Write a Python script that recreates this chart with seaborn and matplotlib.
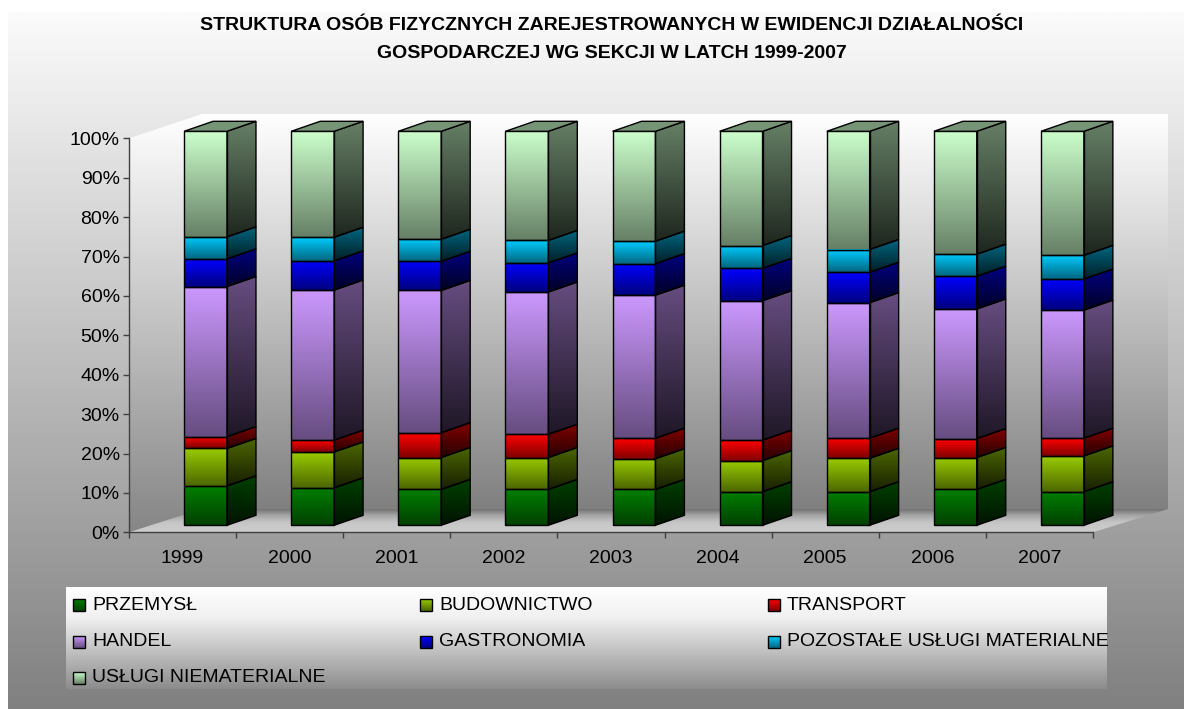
import numpy as np
import pandas as pd
import matplotlib
matplotlib.use("Agg")
import matplotlib.pyplot as plt
import matplotlib.colors as mcolors
import matplotlib.transforms as mtransforms
from matplotlib.patches import Polygon, Rectangle
import seaborn as sns

plt.rcParams['font.family'] = ['Liberation Sans', 'DejaVu Sans']

# data (% of total, per year)
years = ["1999", "2000", "2001", "2002", "2003", "2004", "2005", "2006", "2007"]
przemysl = [10.0, 9.5, 9.1, 9.1, 9.1, 8.5, 8.5, 9.1, 8.5]
budownictwo = [9.5, 9.1, 8.1, 8.1, 7.8, 7.9, 8.5, 8.1, 9.1]
transport = [3.0, 3.0, 6.3, 5.9, 5.2, 5.2, 5.1, 4.8, 4.5]
handel = [38.1, 38.1, 36.1, 36.1, 36.3, 35.4, 34.4, 32.9, 32.5]
gastronomia = [7.0, 7.4, 7.4, 7.4, 8.0, 8.2, 7.7, 8.3, 7.9]
pozostale = [5.6, 6.0, 5.6, 5.7, 5.7, 5.8, 5.8, 5.6, 6.0]
niematerialne = [26.8, 26.9, 27.4, 27.7, 27.9, 29.0, 30.0, 31.2, 31.5]

series_names = ["PRZEMYSŁ", "BUDOWNICTWO", "TRANSPORT", "HANDEL", "GASTRONOMIA",
                "POZOSTAŁE USŁUGI MATERIALNE", "USŁUGI NIEMATERIALNE"]
series_colors = ["#008000", "#99cc00", "#ff0000", "#cc99ff", "#0000ff", "#00ccff", "#ccffcc"]

df = pd.DataFrame({"rok": years, "PRZEMYSŁ": przemysl, "BUDOWNICTWO": budownictwo,
                   "TRANSPORT": transport, "HANDEL": handel, "GASTRONOMIA": gastronomia,
                   "POZOSTAŁE USŁUGI MATERIALNE": pozostale,
                   "USŁUGI NIEMATERIALNE": niematerialne})

# layout in pixels
W, H = 1184, 709
AX_L, AX_R = 129, 1093
Y0, Y100 = 532.3, 138.3
cat_px = (AX_R - AX_L) / 9
pct_px = (Y0 - Y100) / 100
XMAX, YMAX = 8.8, 106


def vgrad(axis, extent, stops, zorder, transform=None, clip=None):
    # vertical colour gradient, stops = [(pos 0 top .. 1 bottom, colour)]
    pos = np.array([s[0] for s in stops])
    cols = np.array([mcolors.to_rgb(s[1]) for s in stops])
    t = np.linspace(0, 1, 200)
    arr = np.stack([np.interp(t, pos, cols[:, k]) for k in range(3)], axis=-1)[:, None, :]
    kw = dict(extent=extent, origin='upper', aspect='auto', interpolation='bilinear', zorder=zorder)
    if transform is not None:
        kw['transform'] = transform
    im = axis.imshow(arr, **kw)
    if clip is not None:
        im.set_clip_path(clip)
    return im


def shade(c, f):
    return tuple(np.array(mcolors.to_rgb(c)) * f)


fig = plt.figure(figsize=(W / 100, H / 100), dpi=100, facecolor='white')

# background, walls, floor (pixel coordinates)
bg = fig.add_axes([0, 0, 1, 1], zorder=0)
bg.axis('off')
vgrad(bg, (8, W, H, 12), [(0, '#fbfbfb'), (1, '#808080')], 1)
vgrad(bg, (202, 1168, 509, 114), [(0, '#ffffff'), (1, '#808080')], 2)
lwall = Polygon([(AX_L, Y0), (AX_L, Y100), (202, 114), (202, 509)], closed=True, fc='none', ec='none')
bg.add_patch(lwall)
vgrad(bg, (AX_L, 202, Y0, 114), [(0, '#ffffff'), (1, '#868686')], 2, clip=lwall)
floor = Polygon([(AX_L, Y0), (AX_R, Y0), (1168, 509), (202, 509)], closed=True, fc='none', ec='none')
bg.add_patch(floor)
vgrad(bg, (AX_L, 1168, Y0, 509), [(0, '#6a6a6a'), (0.3, '#a4a4a4'), (0.6, '#c6c6c6'), (1, '#cdcdcd')], 2, clip=floor)

# legend box
vgrad(bg, (66, 1107, 689, 587), [(0, '#ffffff'), (0.3, '#f0f0f0'), (1, '#8c8c8c')], 2)
leg_clip = Rectangle((66, 587), 1041, 102, fc='none', ec='none')
bg.add_patch(leg_clip)
col_x = [73, 420, 768]
row_y = [605, 642, 678]
for i, (name, col) in enumerate(zip(series_names, series_colors)):
    lx, ly = col_x[i % 3], row_y[i // 3]
    vgrad(bg, (lx, lx + 12, ly + 6, ly - 6), [(0, col), (1, shade(col, 0.5))], 3)
    bg.add_patch(Rectangle((lx, ly - 6), 12, 12, fc='none', ec='black', lw=1.0, zorder=4))
    t = bg.text(lx + 19, ly, name, fontsize=14, va='center', ha='left', color='black', zorder=5)
    t.set_clip_path(leg_clip)
bg.set_xlim(0, W)
bg.set_ylim(H, 0)

fig.text(612 / W, 1 - 25 / H, "STRUKTURA OSÓB FIZYCZNYCH ZAREJESTROWANYCH W EWIDENCJI DZIAŁALNOŚCI",
         ha='center', va='center', fontsize=14, fontweight='bold')
fig.text(612 / W, 1 - 53 / H, "GOSPODARCZEJ WG SEKCJI W LATCH 1999-2007",
         ha='center', va='center', fontsize=14, fontweight='bold')

# main axes = front plane of the box
ax = fig.add_axes([AX_L / W, (H - Y0) / H, cat_px * (XMAX + 0.5) / W, pct_px * YMAX / H], zorder=1)
ax.patch.set_alpha(0)

# bars sit a little behind the axis plane, and have depth
trans = ax.transData + mtransforms.ScaledTranslation(23 / 100, 7 / 100, fig.dpi_scale_trans)
ddx = 29 / cat_px
ddy = 10 / pct_px

bottom = np.zeros(len(years))
for i, (name, col) in enumerate(zip(series_names, series_colors)):
    vals = df[name].to_numpy()
    n_before = len(ax.patches)
    sns.barplot(x=df["rok"], y=vals, bottom=bottom, width=0.4, color=col, saturation=1,
                errorbar=None, edgecolor='black', linewidth=1.0, ax=ax)
    for p in ax.patches[n_before:n_before + len(years)]:
        x0, w, y0, h = p.get_x(), p.get_width(), p.get_y(), p.get_height()
        p.set_transform(trans)
        p.set_facecolor('none')
        p.set_zorder(4)
        p.set_joinstyle('miter')
        vgrad(ax, (x0, x0 + w, y0, y0 + h), [(0, col), (1, shade(col, 0.5))], 3, transform=trans)
        side = Polygon([(x0 + w, y0), (x0 + w + ddx, y0 + ddy), (x0 + w + ddx, y0 + h + ddy), (x0 + w, y0 + h)],
                       closed=True, fc='none', ec='black', lw=1.0, transform=trans, zorder=4, joinstyle='miter')
        ax.add_patch(side)
        vgrad(ax, (x0 + w, x0 + w + ddx, y0, y0 + h + ddy), [(0, shade(col, 0.5)), (1, shade(col, 0.15))], 3,
              transform=trans, clip=side)
        if i == len(series_names) - 1:
            top = y0 + h
            lid = Polygon([(x0, top), (x0 + w, top), (x0 + w + ddx, top + ddy), (x0 + ddx, top + ddy)],
                          closed=True, fc=shade(col, 0.58), ec='black', lw=1.0, transform=trans, zorder=4,
                          joinstyle='miter')
            ax.add_patch(lid)
    bottom = bottom + vals

ax.set_xlim(-0.5, XMAX)
ax.set_ylim(0, YMAX)
ax.set_aspect('auto')
ax.set_xlabel('')
ax.set_ylabel('')
for s in ['top', 'right']:
    ax.spines[s].set_visible(False)
ax.spines['left'].set_bounds(0, 100)
ax.spines['bottom'].set_bounds(-0.5, 8.5)
for s in ['left', 'bottom']:
    ax.spines[s].set_color('#404040')
    ax.spines[s].set_linewidth(1.0)

ax.set_yticks(range(0, 101, 10))
ax.set_yticklabels([f"{v}%" for v in range(0, 101, 10)])
ax.tick_params(axis='y', length=4.5, width=1, color='#404040', pad=2.2, labelsize=14, labelcolor='black')
ax.set_xticks(np.arange(-0.5, 9.0, 1.0))
ax.set_xticklabels([])
ax.set_xticks(np.arange(len(years)), minor=True)
ax.set_xticklabels(years, minor=True)
ax.tick_params(axis='x', which='major', length=4.5, width=1, color='#404040')
ax.tick_params(axis='x', which='minor', length=0, pad=12.5, labelsize=14, labelcolor='black')

fig.savefig('out.png', dpi=100)
